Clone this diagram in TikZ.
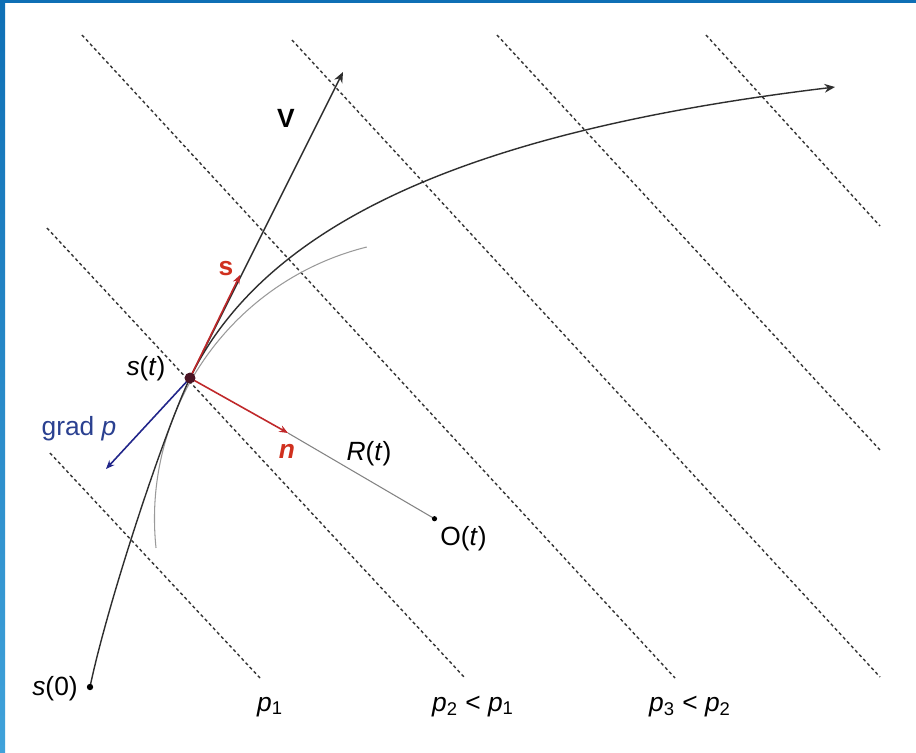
\documentclass[tikz,border=0pt]{standalone}
\usepackage{fontspec}
\setmainfont{Liberation Sans}
\usetikzlibrary{arrows.meta}
\definecolor{frameTop}{HTML}{0E6FB5}
\definecolor{frameBot}{HTML}{40A2DA}
\definecolor{vecred}{HTML}{C0282A}
\definecolor{lblred}{HTML}{D0301E}
\definecolor{vecblue}{HTML}{22268A}
\definecolor{lblblue}{HTML}{2A4090}
\definecolor{traj}{HTML}{2E2E2E}
\definecolor{dashgray}{HTML}{333333}
\definecolor{arcgray}{HTML}{9A9A9A}
\definecolor{dotcol}{HTML}{4A1424}
\tikzset{
  isobar/.style={draw=dashgray, line width=0.8pt, dash pattern=on 1.8pt off 1.6pt},
  trajline/.style={draw=traj, line width=0.8pt},
  bigtip/.style={-{Stealth[length=6pt,width=5pt]}},
  smalltip/.style={-{Stealth[length=5pt,width=4pt]}},
  lab/.style={inner sep=0pt, anchor=base, font=\fontsize{15}{17}\selectfont},
}
\begin{document}
\begin{tikzpicture}[x=0.02cm, y=-0.02cm]
\useasboundingbox (0,0) rectangle (916,752);
\fill[white] (0,0) rectangle (916,752);
% frame
\shade[top color=frameTop, bottom color=frameBot] (0,0) rectangle (5,752);
\fill[frameTop] (0,0) rectangle (916,3);

% isobars
\coordinate (a1) at (50,453);  \coordinate (b1) at (260,678);
\coordinate (a2) at (47,228);  \coordinate (b2) at (465,678);
\coordinate (a3) at (82,35);   \coordinate (b3) at (675,678);
\coordinate (a4) at (292,40);  \coordinate (b4) at (880,677);
\coordinate (a5) at (497,35);  \coordinate (b5) at (880,450);
\coordinate (a6) at (706,35);  \coordinate (b6) at (880,226);
\foreach \i in {1,...,6} \draw[isobar] (a\i) -- (b\i);

% key points
\coordinate (s0) at (90,687);
\coordinate (st) at (190,378);
\coordinate (end) at (835,87);
\coordinate (O) at (434.5,518.7);
\coordinate (Vtip) at (343,72);
\coordinate (stip) at (240,275);
\coordinate (ntip) at (288,433);
\coordinate (gtip) at (106,469);

% osculating circle arc
\draw[draw=arcgray, line width=0.6pt] (O) ++(174:280) arc[start angle=174, end angle=256, radius=280];

% radius line
\draw[draw=arcgray!85!black, line width=0.6pt] (ntip) -- (O);

% trajectory
\draw[trajline] (s0) .. controls (107,605) and (164,432) .. (st);
\draw[trajline, bigtip] (st) .. controls (269,216) and (485,129) .. (end);

% V
\draw[trajline, bigtip] (st) -- (Vtip);

% s, n, grad p
\draw[vecred, line width=0.9pt, smalltip] (st) -- (stip);
\draw[vecred, line width=0.9pt, smalltip] (st) -- (ntip);
\draw[vecblue, line width=0.9pt, smalltip] (st) -- (gtip);

% dots
\fill[dotcol] (st) circle[radius=5.5];
\fill[black] (s0) circle[radius=3.2];
\fill[black] (O) circle[radius=2.6];

% labels
\node[lab, font=\fontsize{15}{17}\selectfont\bfseries] (Vl) at (286,127) {V};
\node[lab, text=lblred, font=\fontsize{15}{17}\selectfont\bfseries] (sl) at (226,275) {s};
\node[lab, text=lblred, font=\fontsize{15}{17}\selectfont\bfseries\itshape] (nl) at (287,458) {n};
\node[lab] (stl) at (146,375) {\textit{s}(\textit{t})};
\node[lab, text=lblblue] (gl) at (79,435) {grad \textit{p}};
\node[lab] (Rl) at (369,460) {\textit{R}(\textit{t})};
\node[lab, anchor=base west] (Ol) at (440,545) {O(\textit{t})};
\node[lab] (s0l) at (55,695) {\textit{s}(0)};
\node[lab] (p1l) at (270,711) {\textit{p}\textsubscript{1}};
\node[lab] (p2l) at (473,711) {\textit{p}\textsubscript{2} < \textit{p}\textsubscript{1}};
\node[lab] (p3l) at (690,711) {\textit{p}\textsubscript{3} < \textit{p}\textsubscript{2}};
\end{tikzpicture}
\end{document}
